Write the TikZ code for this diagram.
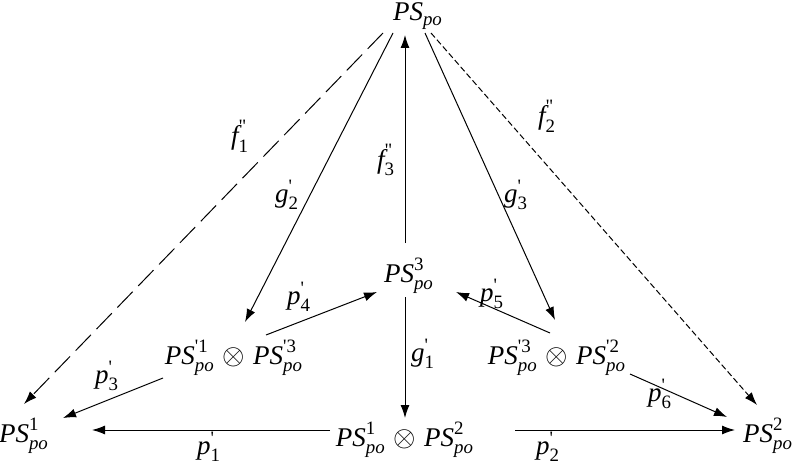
\documentclass[tikz,border=0pt]{standalone}
\usepackage{amsmath}
\usepackage{fontspec}
\setmainfont{Liberation Serif}
\usetikzlibrary{arrows.meta,calc}
\newcommand\PSa[1]{$\text{\itshape PS}^{\text{#1}}_{\text{\itshape po}}$}
\newcommand\lab[3]{$\text{\itshape #1}_{\text{#2}}^{\text{#3}}$}
\newcommand\sq{\textquotesingle}
\newcommand\dq{\textquotedbl}
\begin{document}
\begin{tikzpicture}[x=0.5pt,y=-0.5pt,
 obj/.style={font=\fontsize{13.5}{16}\selectfont, inner sep=0pt},
 lbl/.style={font=\fontsize{13.5}{16}\selectfont, inner sep=0pt},
 arr/.style={line width=0.5pt, -{Latex[length=6.5pt,width=4.5pt]}},
 longdash/.style={dash pattern=on 11pt off 4pt},
 shortdash/.style={dash pattern=on 3pt off 1.5pt}]
\useasboundingbox (0,0) rectangle (793,465);
% objects
\node[obj] (top) at (418,16) {$\text{\itshape PS}_{\text{\itshape po}}$};
\node[obj] (PS3) at (409,276) {\PSa{3}};
\node[obj] (LP) at (234,358) {\PSa{\sq1}$\;\otimes\;$\PSa{\sq3}};
\node[obj] (RP) at (557,358) {\PSa{\sq3}$\;\otimes\;$\PSa{\sq2}};
\node[obj] (BP) at (405,440) {\PSa{1}$\;\otimes\;$\PSa{2}};
\node[obj] (PS1) at (24,436) {\PSa{1}};
\node[obj] (PS2) at (768,436) {\PSa{2}};
% connectors
\draw[arr,longdash] ($(top)+(-35,17)$) -- ($(PS1)+(0,-32)$);
\draw[arr] ($(top)+(-25,17)$) -- ($(LP)+(11,-36)$);
\draw[arr] ($(PS3)+(-4,-33)$) -- ($(top)+(-13,19)$);
\draw[arr] ($(top)+(7,17)$) -- ($(RP)+(-2,-38)$);
\draw[arr,shortdash] ($(top)+(13,17)$) -- ($(PS2)+(-11,-31)$);
\draw[arr] ($(LP)+(32,-23)$) -- ($(PS3)+(-32,16)$);
\draw[arr] ($(RP)+(-7,-25)$) -- ($(PS3)+(47,16)$);
\draw[arr] ($(PS3)+(-4,21)$) -- ($(BP)+(0,-22)$);
\draw[arr] ($(LP)+(-71,20)$) -- ($(PS1)+(39,-18)$);
\draw[arr] ($(RP)+(73,16)$) -- ($(PS2)+(-41,-19)$);
\draw[arr] ($(BP)+(-75,-10)$) -- ($(PS1)+(68,-6)$);
\draw[arr] ($(BP)+(110,-10)$) -- ($(PS2)+(-33,-6)$);
% labels
\node[lbl] (lf1) at (240,136) {\lab{f}{1}{\dq}};
\node[lbl] (lg2) at (287,195) {\lab{g}{2}{\sq}};
\node[lbl] (lf3) at (386,160) {\lab{f}{3}{\dq}};
\node[lbl] (lg3) at (516,195) {\lab{g}{3}{\sq}};
\node[lbl] (lf2) at (547,116) {\lab{f}{2}{\dq}};
\node[lbl] (lp4) at (299,297) {\lab{p}{4}{\sq}};
\node[lbl] (lp5) at (492,294) {\lab{p}{5}{\sq}};
\node[lbl] (lg1) at (423,354) {\lab{g}{1}{\sq}};
\node[lbl] (lp3) at (107,376) {\lab{p}{3}{\sq}};
\node[lbl] (lp6) at (660,394) {\lab{p}{6}{\sq}};
\node[lbl] (lp1) at (209,447) {\lab{p}{1}{\sq}};
\node[lbl] (lp2) at (548,447) {\lab{p}{2}{\sq}};
\end{tikzpicture}
\end{document}
